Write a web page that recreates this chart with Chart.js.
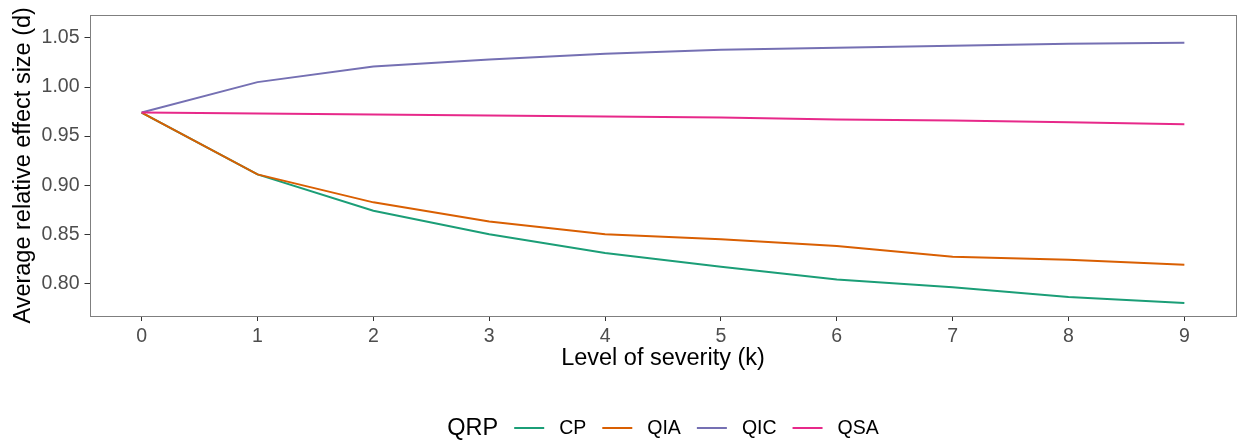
<!DOCTYPE html>
<html>
<head>
<meta charset="utf-8">
<script src="https://cdn.jsdelivr.net/npm/chart.js@4.4.1/dist/chart.umd.min.js"></script>
<style>
  html, body { margin: 0; padding: 0; background: #fff; }
  canvas { display: block; }
</style>
</head>
<body>
<canvas id="chart" width="1238" height="441"></canvas>
<script>
// severity levels (k) and average relative effect size per QRP
const levels = [0, 1, 2, 3, 4, 5, 6, 7, 8, 9];
const seriesNames = ['CP', 'QIA', 'QIC', 'QSA'];
const cp  = [0.974, 0.911, 0.874, 0.850, 0.831, 0.817, 0.804, 0.796, 0.786, 0.780];
const qia = [0.974, 0.911, 0.8825, 0.863, 0.850, 0.845, 0.838, 0.827, 0.824, 0.819];
const qic = [0.974, 1.005, 1.021, 1.028, 1.034, 1.038, 1.040, 1.042, 1.044, 1.045];
const qsa = [0.974, 0.973, 0.972, 0.971, 0.970, 0.969, 0.967, 0.966, 0.964, 0.962];
const yTicks = [0.80, 0.85, 0.90, 0.95, 1.00, 1.05];
const xTicks = levels;

const colors = ['#1B9E77', '#D95F02', '#7570B3', '#E7298A'];
const FONT = '"Liberation Sans", Arial, sans-serif';

const seriesValues = [cp, qia, qic, qsa];
const datasets = seriesNames.map((name, i) => ({
  label: name,
  data: levels.map((k, j) => ({ x: k, y: seriesValues[i][j] })),
  borderColor: colors[i],
  backgroundColor: colors[i],
  borderWidth: 2,
  pointRadius: 0,
  tension: 0,
  order: seriesNames.length - i
}));

// panel border all round
const panelBorder = {
  id: 'panelBorder',
  afterDraw(chart) {
    const { ctx, chartArea: a } = chart;
    ctx.save();
    ctx.strokeStyle = '#7f7f7f';
    ctx.lineWidth = 1;
    ctx.strokeRect(Math.round(a.left) + 0.5, Math.round(a.top) + 0.5,
      Math.round(a.right) - Math.round(a.left) - 1, Math.round(a.bottom) - Math.round(a.top));
    ctx.restore();
  }
};

// horizontal legend with the title on its left
const sideLegend = {
  id: 'sideLegend',
  afterDraw(chart) {
    const ctx = chart.ctx;
    const a = chart.chartArea;
    const y = 429;
    const titleFont = '23.5px ' + FONT;
    const labelFont = '19.5px ' + FONT;
    const lineLen = 30, gapTitle = 16, gapText = 15, gapItem = 16;
    ctx.save();
    ctx.font = titleFont;
    const titleW = ctx.measureText('QRP').width;
    ctx.font = labelFont;
    const items = chart.data.datasets.map(d => ({ label: d.label, color: d.borderColor, w: ctx.measureText(d.label).width }));
    let total = titleW + gapTitle;
    items.forEach((it, i) => { total += lineLen + gapText + it.w + (i < items.length - 1 ? gapItem : 0); });
    let x = (a.left + a.right) / 2 - total / 2;
    ctx.textBaseline = 'middle';
    ctx.fillStyle = '#000';
    ctx.font = titleFont;
    ctx.fillText('QRP', x, y);
    x += titleW + gapTitle;
    ctx.font = labelFont;
    items.forEach(it => {
      ctx.strokeStyle = it.color;
      ctx.lineWidth = 2;
      ctx.beginPath();
      ctx.moveTo(x, y - 1);
      ctx.lineTo(x + lineLen, y - 1);
      ctx.stroke();
      x += lineLen + gapText;
      ctx.fillStyle = '#000';
      ctx.fillText(it.label, x, y);
      x += it.w + gapItem;
    });
    ctx.restore();
  }
};

new Chart(document.getElementById('chart').getContext('2d'), {
  type: 'line',
  data: { datasets: datasets },
  options: {
    responsive: false,
    animation: false,
    devicePixelRatio: 1,
    layout: { padding: { left: 0, top: 14.7, right: 1.5, bottom: 61 } },
    plugins: { legend: { display: false }, tooltip: { enabled: false } },
    scales: {
      x: {
        type: 'linear',
        min: -0.45,
        max: 9.45,
        afterBuildTicks: s => { s.ticks = xTicks.map(v => ({ value: v })); },
        afterFit: s => { s.height = 64; s.paddingLeft = 0; s.paddingRight = 0; },
        grid: { drawOnChartArea: false, drawTicks: true, tickLength: 5, color: '#333333', lineWidth: 1 },
        border: { display: false },
        ticks: {
          padding: 4,
          color: '#4D4D4D',
          font: { family: FONT, size: 19.5 },
          maxRotation: 0,
          callback: v => String(v)
        },
        title: {
          display: true,
          text: 'Level of severity (k)',
          color: '#000',
          font: { family: FONT, size: 23.5 },
          padding: { top: 0, bottom: 7 }
        }
      },
      y: {
        min: 0.7667,
        max: 1.0737,
        afterBuildTicks: s => { s.ticks = yTicks.map(v => ({ value: v })); },
        afterFit: s => { s.width = 89.5; s.paddingTop = 0; s.paddingBottom = 0; },
        grid: { drawOnChartArea: false, drawTicks: true, tickLength: 5, color: '#333333', lineWidth: 1 },
        border: { display: false },
        ticks: {
          padding: 5,
          color: '#4D4D4D',
          font: { family: FONT, size: 19.5 },
          callback: v => v.toFixed(2)
        },
        title: {
          display: true,
          text: 'Average relative effect size (d)',
          color: '#000',
          font: { family: FONT, size: 23.5 },
          padding: { top: 9, bottom: 0 }
        }
      }
    }
  },
  plugins: [panelBorder, sideLegend]
});
</script>
</body>
</html>
